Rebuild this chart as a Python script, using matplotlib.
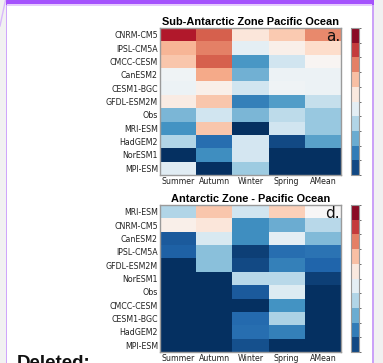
import numpy as np
import matplotlib
matplotlib.use("Agg")
import matplotlib.pyplot as plt
from matplotlib.colors import ListedColormap, BoundaryNorm, Normalize
from matplotlib.patches import Rectangle
from matplotlib.lines import Line2D
import matplotlib.cm as cm

seasons = ["Summer", "Autumn", "Winter", "Spring", "AMean"]

models_a = ["CNRM-CM5", "IPSL-CM5A", "CMCC-CESM", "CanESM2", "CESM1-BGC",
            "GFDL-ESM2M", "Obs", "MRI-ESM", "HadGEM2", "NorESM1", "MPI-ESM"]
values_a = [
    [0.90, 0.80, 0.56, 0.63, 0.74],
    [0.67, 0.75, 0.45, 0.53, 0.59],
    [0.64, 0.80, 0.21, 0.40, 0.51],
    [0.48, 0.69, 0.26, 0.47, 0.47],
    [0.47, 0.53, 0.40, 0.48, 0.47],
    [0.54, 0.64, 0.16, 0.22, 0.38],
    [0.27, 0.40, 0.27, 0.37, 0.31],
    [0.20, 0.64, 0.00, 0.40, 0.31],
    [0.35, 0.12, 0.41, 0.05, 0.23],
    [0.00, 0.19, 0.41, 0.00, 0.00],
    [0.44, 0.00, 0.32, 0.00, 0.00],
]

models_d = ["MRI-ESM", "CNRM-CM5", "CanESM2", "IPSL-CM5A", "GFDL-ESM2M",
            "NorESM1", "Obs", "CMCC-CESM", "CESM1-BGC", "HadGEM2", "MPI-ESM"]
values_d = [
    [0.35, 0.64, 0.40, 0.62, 0.50],
    [0.53, 0.56, 0.19, 0.25, 0.36],
    [0.08, 0.42, 0.19, 0.45, 0.28],
    [0.09, 0.29, 0.03, 0.12, 0.13],
    [0.00, 0.29, 0.05, 0.16, 0.10],
    [0.00, 0.00, 0.36, 0.36, 0.03],
    [0.00, 0.00, 0.08, 0.43, 0.00],
    [0.00, 0.00, 0.00, 0.20, 0.00],
    [0.00, 0.00, 0.11, 0.34, 0.00],
    [0.00, 0.00, 0.12, 0.16, 0.00],
    [0.00, 0.00, 0.06, 0.00, 0.00],
]

W, H = 383, 363
fig = plt.figure(figsize=(W / 100, H / 100), dpi=100)
fig.patch.set_facecolor("white")


def fx(px):
    return px / W


def fy(py):
    return 1 - py / H


cmap = plt.get_cmap("RdBu_r")
norm = Normalize(0, 1)
bar_cmap = ListedColormap(cmap(np.linspace(0.05, 0.95, 10)))
bar_norm = BoundaryNorm(np.linspace(0, 1, 11), 10)
edge = "#9a9a9a"


def panel(top, bottom, models, vals, title, letter):
    ax = fig.add_axes([fx(160), fy(bottom), fx(341) - fx(160), fy(top) - fy(bottom)])
    data = np.array(vals)
    ax.pcolormesh(np.arange(len(seasons) + 1), np.arange(len(models) + 1), data,
                  cmap=cmap, norm=norm)
    ax.set_xlim(0, len(seasons))
    ax.set_ylim(len(models), 0)
    ax.set_xticks(np.arange(len(seasons)) + 0.5)
    ax.set_xticklabels(seasons, fontsize=5.7, family="DejaVu Sans")
    ax.set_yticks(np.arange(len(models)) + 0.5)
    ax.set_yticklabels(models, fontsize=5.7, family="DejaVu Sans")
    ax.tick_params(length=0, pad=1.5, colors="#222222")
    for s in ax.spines.values():
        s.set_color(edge)
        s.set_linewidth(1.0)
    ax.set_title(title, fontsize=7.9, fontweight="bold", family="Liberation Sans",
                 pad=2.5)
    ax.text(0.995, 0.995, letter, transform=ax.transAxes, ha="right", va="top",
            fontsize=11, family="DejaVu Sans", color="#111111")
    cax = fig.add_axes([fx(351), fy(bottom), fx(359) - fx(351), fy(top) - fy(bottom)])
    sm = cm.ScalarMappable(norm=bar_norm, cmap=bar_cmap)
    cb = fig.colorbar(sm, cax=cax, ticks=np.linspace(0, 1, 11))
    cb.outline.set_edgecolor(edge)
    cb.outline.set_linewidth(0.8)
    cax.tick_params(length=1.5, width=0.6, color="#555555", labelsize=1, labelcolor="white")
    return ax


panel(28, 175, models_a, values_a, "Sub-Antarctic Zone Pacific Ocean", "a.")
panel(205, 352, models_d, values_d, "Antarctic Zone - Pacific Ocean", "d.")

# page decorations (screenshot frame)
def rect(x0, y0, x1, y1, color, z=50):
    fig.add_artist(Rectangle((fx(x0), fy(y1)), fx(x1) - fx(x0), fy(y0) - fy(y1),
                             transform=fig.transFigure, facecolor=color,
                             edgecolor="none", zorder=z))

rect(0, 0, 5.5, H, "#f1f1f1")
rect(373.5, 0, W, H, "#f1f1f1")
rect(5.5, 0, 7.2, H, "#cfa6fb")
rect(371.5, 0, 373.5, H, "#cba2f8")
rect(5.5, 0, 373.5, 4.5, "#a552fd")
rect(7.2, 4.5, 371.5, 5.5, "#e6cdfd")
fig.add_artist(Line2D([fx(5.5), fx(0)], [fy(0), fy(26)], transform=fig.transFigure,
                      color="#d9b8fb", linewidth=1.0, zorder=51))

fig.text(fx(17), fy(355), "Deleted:", ha="left", va="top", fontsize=13.5,
         fontweight="bold", family="Liberation Sans", color="#111111")

fig.savefig("out.png", dpi=100)
